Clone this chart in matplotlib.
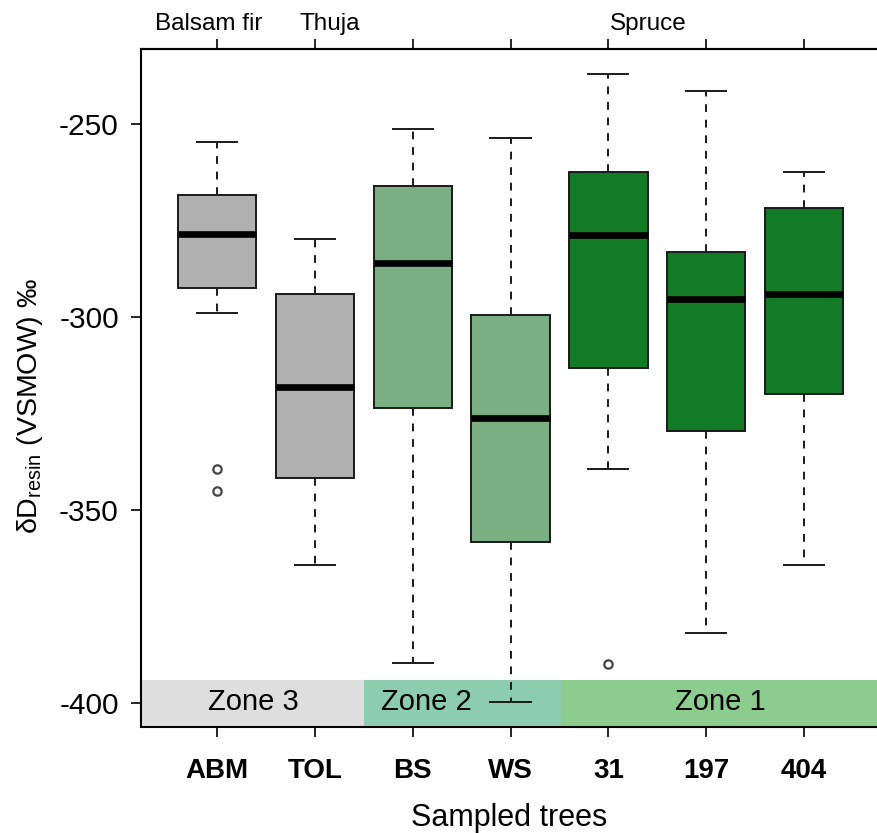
import matplotlib
matplotlib.use("Agg")
import matplotlib.pyplot as plt

plt.rcParams['font.family'] = ['Liberation Sans', 'DejaVu Sans']
plt.rcParams['mathtext.fontset'] = 'custom'
plt.rcParams['mathtext.rm'] = 'Liberation Sans'
plt.rcParams['mathtext.it'] = 'Liberation Sans'

# sampled trees
trees = ['ABM', 'TOL', 'BS', 'WS', '31', '197', '404']
# box statistics (permil)
whislo = [-299.0, -364.2, -389.6, -399.7, -339.4, -381.9, -364.2]
q1 = [-292.6, -341.6, -323.5, -358.2, -313.1, -329.6, -319.9]
med = [-278.6, -318.1, -286.0, -326.2, -278.8, -295.3, -294.0]
q3 = [-268.5, -294.1, -266.1, -299.4, -262.4, -283.3, -271.7]
whishi = [-254.8, -279.7, -251.3, -253.6, -237.1, -241.6, -262.5]
fliers = [[-339.3, -345.0], [], [], [], [-389.9], [], []]
box_colors = ['#b0b0b0', '#b0b0b0', '#7baf83', '#7baf83', '#137a26', '#137a26', '#137a26']

# species labels on the top axis
species = ['Balsam fir', 'Thuja', 'Spruce']
species_x = [0.92, 2.15, 5.41]

# climate zones (band along the bottom)
zones = ['Zone 3', 'Zone 2', 'Zone 1']
zone_start = [0.224, 2.5, 4.52]
zone_end = [2.5, 4.52, 7.745]
zone_label_x = [1.37, 3.14, 6.14]
zone_colors = ['#dedede', '#8ccdb0', '#8ccd8f']
zone_top = -394.0

fig = plt.figure(figsize=(8.77, 8.33), dpi=100)
ax = fig.add_axes([0.1608, 0.1273, 0.8392, 0.8139])

ymin, ymax = -406.2, -230.6
xmin, xmax = 0.224, 7.745

for name, x0, x1, lx, c in zip(zones, zone_start, zone_end, zone_label_x, zone_colors):
    ax.fill_between([x0, x1], ymin, zone_top, color=c, lw=0, zorder=0)
    ax.text(lx, (ymin + zone_top) / 2 + 0.3, name, ha='center', va='center',
            fontsize=21, zorder=1)

stats = []
for i in range(len(trees)):
    stats.append(dict(label=trees[i], whislo=whislo[i], q1=q1[i], med=med[i],
                      q3=q3[i], whishi=whishi[i], fliers=fliers[i]))

pos = list(range(1, len(trees) + 1))
bp = ax.bxp(stats, positions=pos, widths=0.8, capwidths=0.41, patch_artist=True,
            boxprops=dict(edgecolor='#1a1a1a', linewidth=1.4),
            whiskerprops=dict(color='#1a1a1a', linewidth=1.4, linestyle=(0, (4, 4))),
            capprops=dict(color='#1a1a1a', linewidth=1.4),
            medianprops=dict(color='black', linewidth=4.8, solid_capstyle='butt'),
            flierprops=dict(marker='o', markersize=6, markerfacecolor='none',
                            markeredgecolor='#444444', markeredgewidth=1.6),
            zorder=2)
for patch, c in zip(bp['boxes'], box_colors):
    patch.set_facecolor(c)

ax.set_xlim(xmin, xmax)
ax.set_ylim(ymin, ymax)
ax.set_yticks([-250, -300, -350, -400])
ax.set_yticklabels(['-250', '-300', '-350', '-400'])
ax.set_xticks(pos)
ax.set_xticklabels(trees, fontweight='bold', fontsize=20)
ax.tick_params(axis='y', labelsize=21.5, length=7, width=1.2, pad=9)
ax.tick_params(axis='x', length=7, width=1.2, pad=15)

ax.spines['right'].set_visible(False)
for s in ['left', 'top', 'bottom']:
    ax.spines[s].set_linewidth(1.5)

# top axis: ticks at every tree, species names placed over their groups
top = ax.secondary_xaxis('top')
top.set_xticks(pos)
top.set_xticklabels([''] * len(pos))
top.tick_params(length=7, width=1.2)
top.spines['top'].set_linewidth(1.5)
for name, sx in zip(species, species_x):
    ax.text(sx, 1.028, name, transform=ax.get_xaxis_transform(), ha='center',
            va='baseline', fontsize=17.5)

ax.set_xlabel('Sampled trees', fontsize=22, labelpad=14)
ax.set_ylabel(r'δD$_{\mathrm{resin}}$ (VSMOW) ‰', fontsize=20.5, labelpad=10)
ax.yaxis.label.set_y(0.473)

fig.savefig('out.png', dpi=100)
